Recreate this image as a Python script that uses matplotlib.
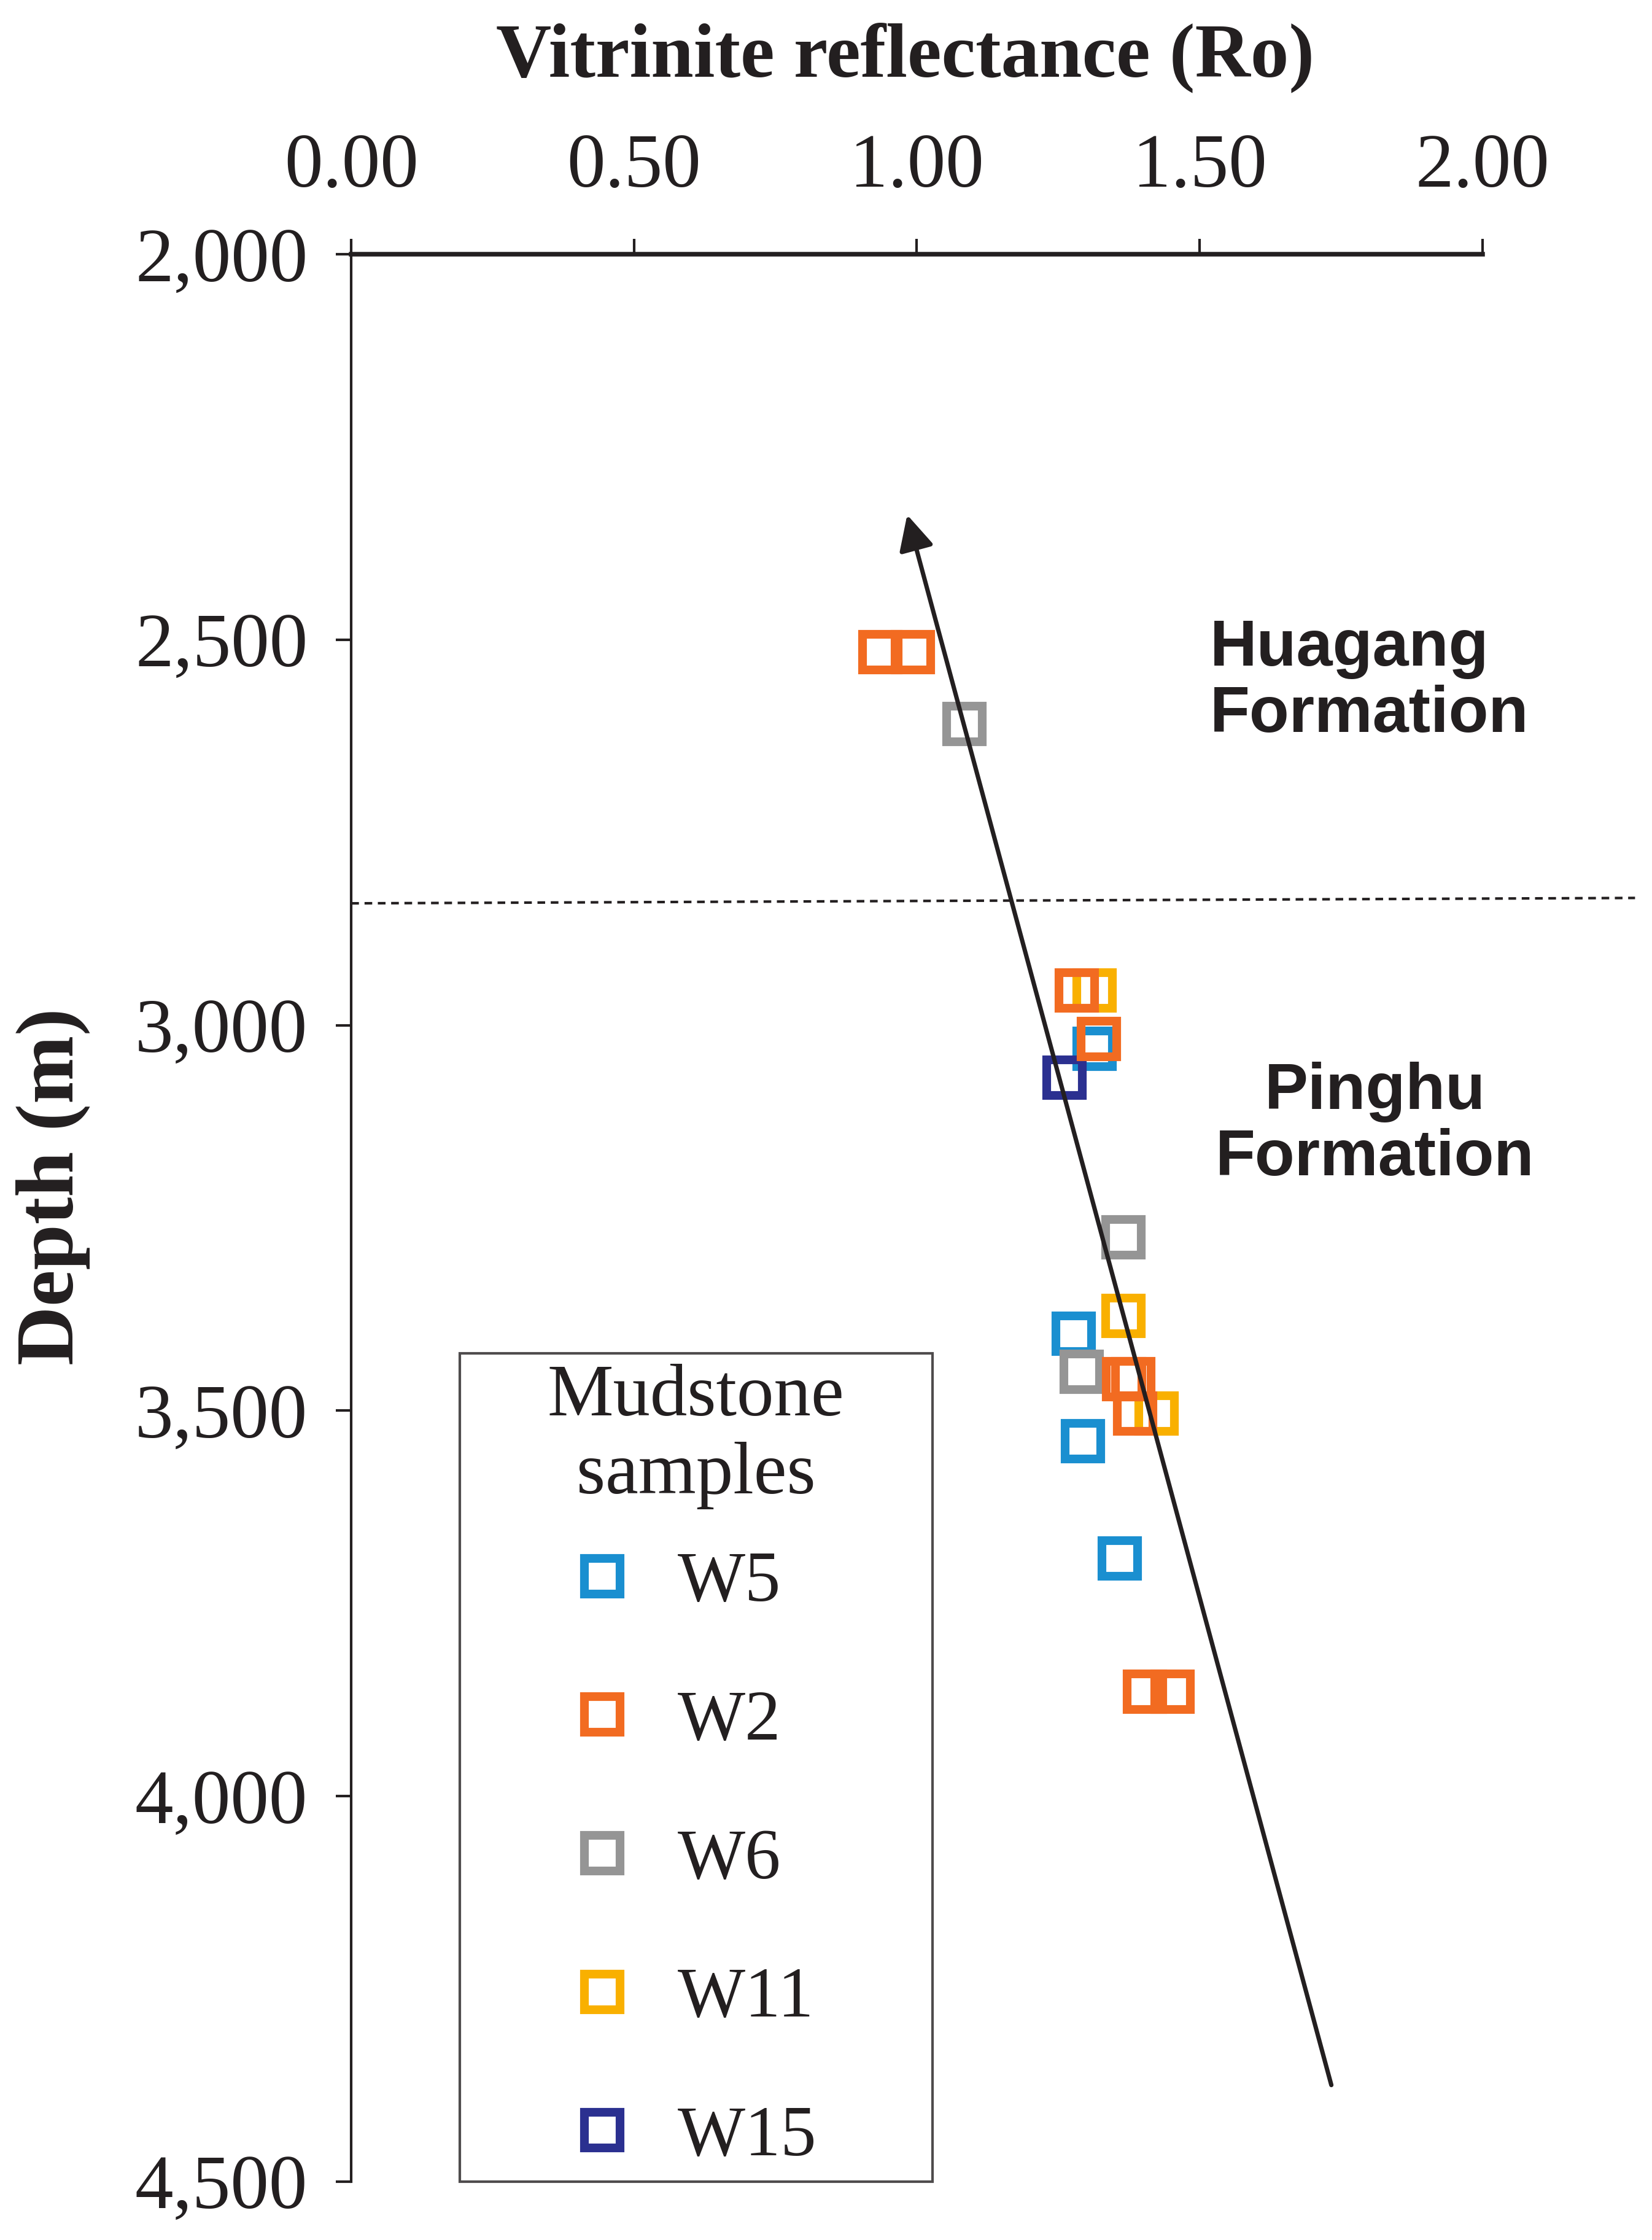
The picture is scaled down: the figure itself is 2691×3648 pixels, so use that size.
import numpy as np
import matplotlib
matplotlib.use("Agg")
import matplotlib.pyplot as plt
from matplotlib.lines import Line2D

# --- data (Ro, depth in m) ---
w5_ro = [1.314, 1.277, 1.294, 1.359]
w5_depth = [3031, 3400, 3540, 3692]

w2_ro = [0.935, 0.993, 1.283, 1.322, 1.367, 1.383, 1.386, 1.403, 1.452]
w2_depth = [2516, 2516, 2955, 3018, 3459, 3459, 3504, 3865, 3865]

w6_ro = [1.084, 1.365, 1.292]
w6_depth = [2609, 3275, 3450]

w11_ro = [1.314, 1.365, 1.424]
w11_depth = [2955, 3377, 3504]

w15_ro = [1.261]
w15_depth = [3068]

trend_start = (1.733, 4375)
trend_end = (0.983, 2338)
boundary_ro = [0.0, 2.27]
boundary_depth = [2842, 2835]

xticks = [0.0, 0.5, 1.0, 1.5, 2.0]
xticklabels = ["0.00", "0.50", "1.00", "1.50", "2.00"]
yticks = [2000, 2500, 3000, 3500, 4000, 4500]
yticklabels = ["2,000", "2,500", "3,000", "3,500", "4,000", "4,500"]

colors = {"W5": "#1a8fd0", "W2": "#f26b21", "W6": "#959595",
          "W11": "#f9b000", "W15": "#2b3090"}
ink = "#231f20"
serif = "Liberation Serif"
sans = "Liberation Sans"

fig = plt.figure(figsize=(2691 / 300, 3648 / 300), dpi=300)
ax = fig.add_axes([246 / 1157, 41 / 1568, 1 - 246 / 1157, 1349 / 1568])
ax.set_xlim(0, 2.3)
ax.set_ylim(4500, 2000)

mk = dict(marker="s", linestyle="none", markersize=13.9, markeredgewidth=3.4,
          markerfacecolor="none")
series = {"W5": (w5_ro, w5_depth), "W6": (w6_ro, w6_depth),
          "W11": (w11_ro, w11_depth), "W15": (w15_ro, w15_depth),
          "W2": (w2_ro, w2_depth)}
for name, (xs, ys) in series.items():
    ax.plot(xs, ys, markeredgecolor=colors[name], zorder=3, **mk)

# formation boundary
ax.plot(boundary_ro, boundary_depth, color=ink, lw=1.0,
        linestyle=(0, (3, 2.2)), clip_on=False, zorder=2)

# trend arrow
ax.annotate("", xy=trend_end, xytext=trend_start,
            arrowprops=dict(arrowstyle="-|>,head_length=0.4,head_width=0.2",
                            mutation_scale=29, lw=1.7, color=ink,
                            shrinkA=0, shrinkB=0), zorder=4)

# axes styling
ax.xaxis.tick_top()
ax.set_xticks(xticks, xticklabels)
ax.set_yticks(yticks, yticklabels)
for lab in ax.get_xticklabels() + ax.get_yticklabels():
    lab.set_fontfamily(serif)
    lab.set_fontsize(30)
    lab.set_color(ink)
ax.tick_params(axis="x", direction="out", length=6, width=1.0, pad=14, colors=ink)
ax.tick_params(axis="y", direction="out", length=6, width=1.0, pad=11, colors=ink)
ax.spines["right"].set_visible(False)
ax.spines["bottom"].set_visible(False)
ax.spines["top"].set_bounds(0, 2)
ax.spines["top"].set_linewidth(1.8)
ax.spines["left"].set_linewidth(1.0)
ax.spines["top"].set_color(ink)
ax.spines["left"].set_color(ink)

ax.text(0.98, 1.102, "Vitrinite reflectance (Ro)", transform=ax.get_xaxis_transform(),
        ha="center", va="center", fontsize=30, fontweight="bold",
        family=serif, color=ink, clip_on=False)
ax.text(-0.527, 3209, "Depth (m)", rotation=90, ha="center", va="center",
        fontsize=32, fontweight="bold", family=serif, color=ink, clip_on=False)

ax.text(1.518, 2555, "Huagang\nFormation", ha="left", va="center",
        fontsize=25.5, fontweight="bold", family=sans, color=ink, linespacing=1.12)
ax.text(1.81, 3130, "Pinghu\nFormation", ha="center", va="center",
        multialignment="center", fontsize=25.5, fontweight="bold",
        family=sans, color=ink, linespacing=1.12)

# legend
order = ["W5", "W2", "W6", "W11", "W15"]
handles = [Line2D([], [], markeredgecolor=colors[n], **mk) for n in order]
leg = ax.legend(handles, order, title="Mudstone\nsamples", loc="lower left",
                bbox_to_anchor=(76 / 911, 0.0, 331 / 911, 0.432), mode="expand",
                borderaxespad=0, borderpad=0.15, handlelength=3.68,
                handletextpad=-0.79, labelspacing=1.02, frameon=True, fancybox=False,
                prop={"family": serif, "size": 28},
                title_fontproperties={"family": serif, "size": 29})
leg._legend_box.sep = 16.3
leg.get_title().set_multialignment("center")
leg.get_title().set_color(ink)
for t in leg.get_texts():
    t.set_color(ink)
leg.get_frame().set_edgecolor(ink)
leg.get_frame().set_linewidth(1.0)

fig.savefig("out.png", dpi=300, facecolor="white")
